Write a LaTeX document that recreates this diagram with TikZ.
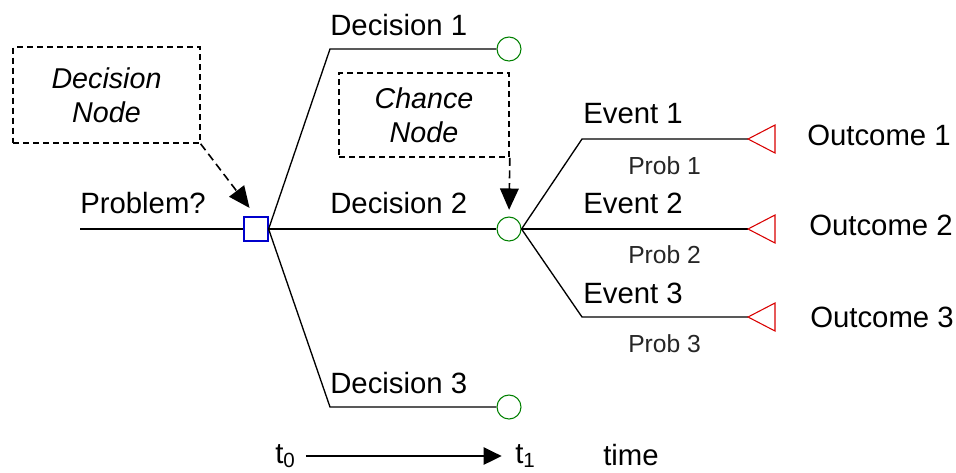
\documentclass[tikz,border=0pt]{standalone}
\usepackage{fontspec}
\setmainfont{Liberation Sans}
\usetikzlibrary{arrows.meta}
\begin{document}
\begin{tikzpicture}[x=0.75pt,y=-0.75pt,
  branch/.style={line width=1pt,black},
  decnode/.style={draw=blue!80!black,line width=0.9pt,fill=white,minimum size=18pt,inner sep=0},
  chnode/.style={circle,draw=green!50!black,line width=0.8pt,fill=white,minimum size=18pt,inner sep=0},
  endtri/.style={draw=red!85!black,line width=0.8pt},
  lbl/.style={font=\fontsize{22}{26}\selectfont,inner sep=0,anchor=base west},
  prob/.style={font=\fontsize{18.5}{22}\selectfont,inner sep=0,anchor=base west,text=black!85},
  note/.style={draw,dash pattern=on 4.5pt off 3pt,line width=1.2pt,align=center,font=\fontsize{21.5}{25.5}\selectfont\itshape,inner sep=0},
  pointer/.style={line width=1.2pt,dash pattern=on 6pt off 3.5pt,-{Triangle[length=16pt,width=14pt]}}
]
\useasboundingbox (0,0) rectangle (956,472);

% decision and chance nodes
\node[decnode] (sq) at (256,229) {};
\node[chnode] (c1) at (509,49) {};
\node[chnode] (c2) at (509,229) {};
\node[chnode] (c3) at (509,407) {};

% bends and end points of the branches
\coordinate (start) at (80,229);
\coordinate (k1) at (330,49);
\coordinate (k3) at (330,407);
\coordinate (e1) at (582,139);
\coordinate (e3) at (582,317);
\coordinate (o1) at (748,139);
\coordinate (o2) at (748,229);
\coordinate (o3) at (748,317);

% branches
\draw[branch] (start) -- (sq.west);
\draw[branch] (sq.east) -- (k1) -- (c1.west);
\draw[branch] (sq.east) -- (c2.west);
\draw[branch] (sq.east) -- (k3) -- (c3.west);
\draw[branch] (c2.east) -- (e1) -- (o1);
\draw[branch] (c2.east) -- (o2);
\draw[branch] (c2.east) -- (e3) -- (o3);

% terminal triangles
\foreach \o in {o1,o2,o3}
  \draw[endtri] (\o) -- ++(27,-14) -- ++(0,28) -- cycle;

% branch labels
\node[lbl] (tp) at (80,213) {Problem?};
\node[lbl] (td1) at (330,35) {Decision 1};
\node[lbl] (td2) at (330,213) {Decision 2};
\node[lbl] (td3) at (330,393) {Decision 3};
\node[lbl] (te1) at (583,123) {Event 1};
\node[lbl] (te2) at (583,213) {Event 2};
\node[lbl] (te3) at (583,303) {Event 3};
\node[prob] (tp1) at (628,174) {Prob 1};
\node[prob] (tp2) at (628,263) {Prob 2};
\node[prob] (tp3) at (628,352) {Prob 3};
\node[lbl] (to1) at (807,145) {Outcome 1};
\node[lbl] (to2) at (809,235) {Outcome 2};
\node[lbl] (to3) at (810,327) {Outcome 3};

% callouts
\node[note,minimum width=140pt,minimum height=72pt] (b1) at (106.5,95) {Decision\\Node};
\node[note,minimum width=127.5pt,minimum height=63pt] (b2) at (424,115) {Chance\\Node};
\draw[pointer,shorten >=8pt] (b1.south east) -- (sq.north);
\draw[pointer,shorten >=5pt] (b2.south east) -- (c2.north);

% time axis
\node[lbl] (t0) at (275,463) {t\textsubscript{0}};
\node[lbl] (t1) at (515,463) {t\textsubscript{1}};
\node[lbl] (tm) at (603,465) {time};
\draw[line width=1pt,-{Triangle[length=13.5pt,width=13pt]},shorten <=7.5pt,shorten >=10pt]
  (t0.east) -- (t1.west |- t0.east);
\end{tikzpicture}
\end{document}
